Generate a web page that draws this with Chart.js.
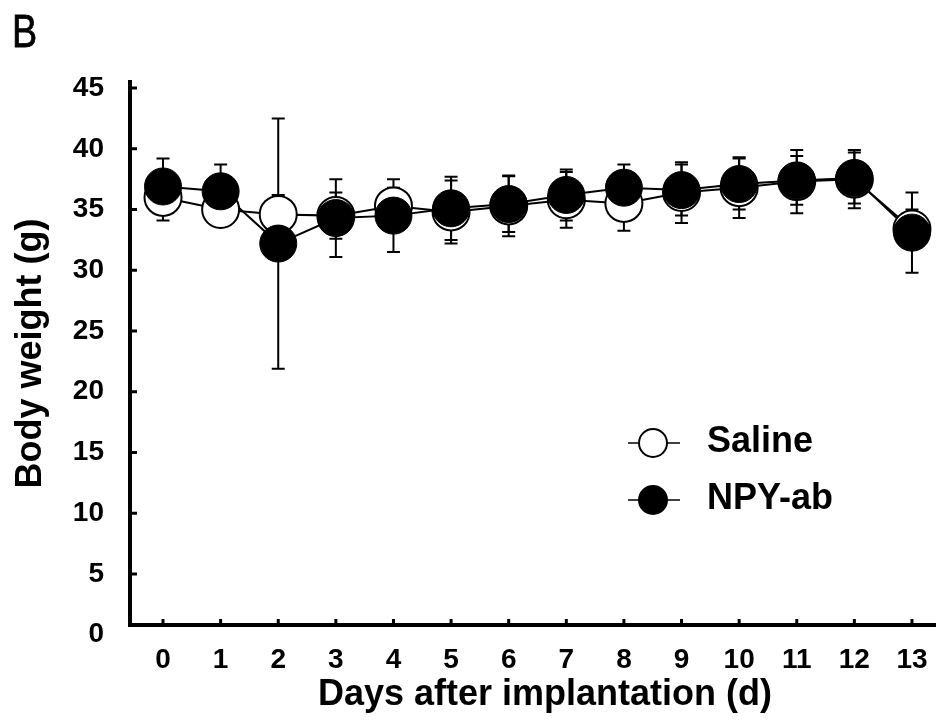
<!DOCTYPE html>
<html>
<head>
<meta charset="utf-8">
<script src="https://cdn.jsdelivr.net/npm/chart.js@4.4.1/dist/chart.umd.min.js"></script>
<style>
  html, body { margin: 0; padding: 0; background: #fff; }
  #wrap { width: 936px; height: 728px; }
</style>
</head>
<body>
<div id="wrap"><canvas id="ch"></canvas></div>
<script>
// values (mean +/- SE), body weight in g
var days = [0, 1, 2, 3, 4, 5, 6, 7, 8, 9, 10, 11, 12, 13];
var salineMean = [36.0, 35.0, 34.6, 34.5, 35.3, 34.8, 35.3, 35.8, 35.5, 36.4, 36.8, 37.3, 37.5, 33.4];
var salineSE   = [1.9, 1.3, 1.6, 1.9, 1.5, 2.6, 2.5, 2.3, 2.25, 2.5, 2.5, 2.6, 2.4, 1.6];
var npyMean    = [36.9, 36.5, 32.2, 34.3, 34.5, 35.1, 35.45, 36.2, 36.8, 36.6, 37.1, 37.4, 37.6, 33.1];
var npySE      = [2.3, 2.2, 10.3, 3.2, 3.0, 2.6, 2.3, 2.1, 1.9, 2.1, 2.1, 2.0, 2.1, 3.3];
var yTicks = [0, 5, 10, 15, 20, 25, 30, 35, 40, 45];
var seriesNames = ['Saline', 'NPY-ab'];
var xTitle = 'Days after implantation (d)';

var FONT = '"Liberation Sans", Arial, sans-serif';

function pts(mean) {
  return days.map(function (d, i) { return { x: d, y: mean[i] }; });
}

// error bars, drawn under lines and symbols
var errorBars = {
  id: 'errorBars',
  beforeDatasetsDraw: function (chart) {
    var ctx = chart.ctx, xs = chart.scales.x, ys = chart.scales.y;
    var sets = [[salineMean, salineSE], [npyMean, npySE]];
    ctx.save();
    ctx.strokeStyle = '#000';
    ctx.lineWidth = 2;
    sets.forEach(function (s) {
      days.forEach(function (d, i) {
        var x = xs.getPixelForValue(d);
        var yt = ys.getPixelForValue(s[0][i] + s[1][i]);
        var yb = ys.getPixelForValue(s[0][i] - s[1][i]);
        ctx.beginPath();
        ctx.moveTo(x, yt); ctx.lineTo(x, yb);
        ctx.moveTo(x - 6.5, yt); ctx.lineTo(x + 6.5, yt);
        ctx.moveTo(x - 6.5, yb); ctx.lineTo(x + 6.5, yb);
        ctx.stroke();
      });
    });
    ctx.restore();
  }
};

// inward tick marks, x title, legend and panel letter
var extras = {
  id: 'extras',
  afterDraw: function (chart) {
    var ctx = chart.ctx, xs = chart.scales.x, ys = chart.scales.y;
    var a = chart.chartArea;
    ctx.save();
    ctx.strokeStyle = '#000';
    ctx.fillStyle = '#000';
    ctx.lineWidth = 3;
    ctx.beginPath();
    yTicks.forEach(function (v) {
      if (v === 0) return;
      var y = ys.getPixelForValue(v);
      ctx.moveTo(a.left, y); ctx.lineTo(a.left + 7, y);
    });
    days.forEach(function (d) {
      var x = xs.getPixelForValue(d);
      ctx.moveTo(x, a.bottom); ctx.lineTo(x, a.bottom - 6);
    });
    ctx.stroke();

    ctx.font = 'bold 36px ' + FONT;
    ctx.textAlign = 'center';
    ctx.textBaseline = 'middle';
    ctx.fillText(xTitle, 545, 695);

    // legend
    var ly = [443, 500];
    seriesNames.forEach(function (name, i) {
      ctx.lineWidth = 1.5;
      ctx.beginPath();
      ctx.moveTo(628, ly[i]); ctx.lineTo(680, ly[i]);
      ctx.stroke();
      ctx.beginPath();
      ctx.arc(653, ly[i], 14, 0, Math.PI * 2);
      ctx.fillStyle = i === 0 ? '#fff' : '#000';
      ctx.fill();
      ctx.lineWidth = 2;
      ctx.stroke();
      ctx.fillStyle = '#000';
      ctx.font = 'bold 36px ' + FONT;
      ctx.textBaseline = 'middle';
      ctx.textAlign = 'left';
      ctx.fillText(name, 707, ly[i] - 1);
    });

    // panel letter
    ctx.translate(12, 47);
    ctx.scale(0.82, 1);
    ctx.font = '46px ' + FONT;
    ctx.textBaseline = 'alphabetic';
    ctx.lineWidth = 0.8;
    ctx.fillText('B', 0, 0);
    ctx.strokeText('B', 0, 0);
    ctx.restore();
  }
};

new Chart(document.getElementById('ch'), {
  type: 'line',
  data: {
    datasets: [
      { label: 'Saline line', data: pts(salineMean), borderColor: '#000', borderWidth: 2, pointRadius: 0, order: 4, clip: false },
      { label: 'NPY-ab line', data: pts(npyMean), borderColor: '#000', borderWidth: 2, pointRadius: 0, order: 3, clip: false },
      { label: 'Saline', data: pts(salineMean), showLine: false, pointRadius: 18.5, pointBackgroundColor: '#fff', pointBorderColor: '#000', pointBorderWidth: 2, order: 2, clip: false },
      { label: 'NPY-ab', data: pts(npyMean), showLine: false, pointRadius: 18.5, pointBackgroundColor: '#000', pointBorderColor: '#000', pointBorderWidth: 1, order: 1, clip: false }
    ]
  },
  options: {
    responsive: true,
    maintainAspectRatio: false,
    animation: false,
    events: [],
    layout: { autoPadding: false, padding: { top: 82, right: 0, left: 0, bottom: 0 } },
    plugins: { legend: { display: false }, tooltip: { enabled: false } },
    scales: {
      x: {
        type: 'linear',
        min: -0.573,
        max: 13.417,
        afterBuildTicks: function (s) { s.ticks = days.map(function (v) { return { value: v }; }); },
        afterFit: function (s) { s.height = 103; s.paddingLeft = 0; s.paddingRight = 0; },
        grid: { display: false, drawTicks: false },
        border: { display: true, width: 4, color: '#000' },
        ticks: { color: '#000', padding: 18, autoSkip: false, maxRotation: 0, font: { family: FONT, size: 28, weight: 'bold' } },
        title: { display: false }
      },
      y: {
        min: 0.8,
        max: 45.5,
        afterBuildTicks: function (s) { s.ticks = yTicks.map(function (v) { return { value: v }; }); },
        afterFit: function (s) { s.width = 130; },
        grid: { display: false, drawTicks: false },
        border: { display: true, width: 4, color: '#000' },
        ticks: { color: '#000', padding: 26, autoSkip: false, font: { family: FONT, size: 28, weight: 'bold' } },
        title: { display: true, text: 'Body weight (g)', color: '#000', padding: { top: 13, bottom: 0 }, font: { family: FONT, size: 36, weight: 'bold', lineHeight: 1 } }
      }
    }
  },
  plugins: [errorBars, extras]
});
</script>
</body>
</html>
